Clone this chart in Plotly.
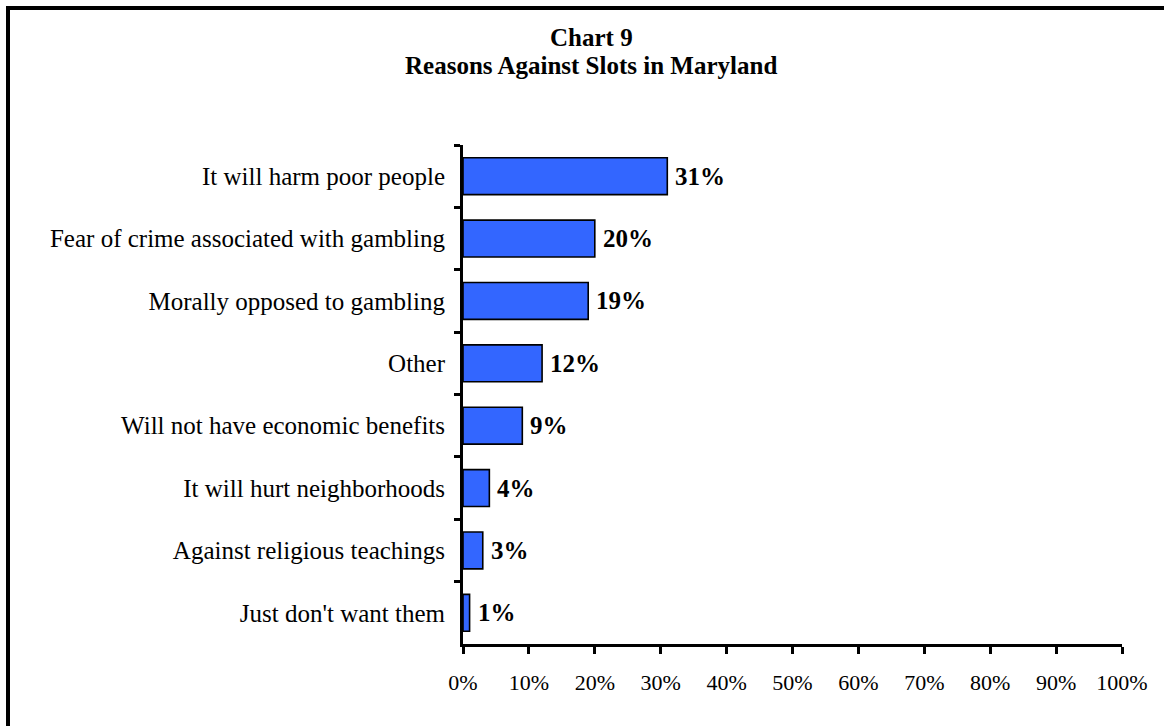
import plotly.graph_objects as go

# Survey responses: reasons given against slots in Maryland
reasons = [
    "It will harm poor people",
    "Fear of crime associated with gambling",
    "Morally opposed to gambling",
    "Other",
    "Will not have economic benefits",
    "It will hurt neighborhoods",
    "Against religious teachings",
    "Just don't want them",
]
shares = [31, 20, 19, 12, 9, 4, 3, 1]
x_ticks = list(range(0, 101, 10))
x_tick_text = [f"{v}%" for v in x_ticks]
title_lines = ["Chart 9", "Reasons Against Slots in Maryland"]

SERIF = "Liberation Serif, Times New Roman, serif"

W, H = 1164, 726
ML, MR, MT, MB = 463, 42, 145, 82
PW, PH = W - ML - MR, H - MT - MB

fig = go.Figure(
    go.Bar(
        x=shares,
        y=reasons,
        orientation="h",
        marker=dict(color="#3366FF", line=dict(color="#000000", width=1.6)),
        hoverinfo="skip",
    )
)

# value labels just past the end of each bar
annotations = [
    dict(
        x=v,
        y=r,
        xref="x",
        yref="y",
        text=f"<b>{v}%</b>",
        showarrow=False,
        xanchor="left",
        yanchor="middle",
        xshift=6,
        font=dict(family=SERIF, size=25, color="#000000"),
    )
    for v, r in zip(shares, reasons)
]

# two-line heading, centred over the page (positions given in page pixels)
for line, ypix in zip(title_lines, [37, 66]):
    annotations.append(
        dict(
            x=(591 - ML) / PW,
            y=(H - MB - ypix) / PH,
            xref="paper",
            yref="paper",
            text=f"<b>{line}</b>",
            showarrow=False,
            xanchor="center",
            yanchor="middle",
            font=dict(family=SERIF, size=25, color="#000000"),
        )
    )

fig.update_layout(
    width=W,
    height=H,
    paper_bgcolor="#FFFFFF",
    plot_bgcolor="#FFFFFF",
    margin=dict(l=ML, r=MR, t=MT, b=MB),
    bargap=0.41,
    showlegend=False,
    annotations=annotations,
    xaxis=dict(
        range=[0, 100],
        tickvals=x_ticks,
        ticktext=x_tick_text,
        showgrid=False,
        zeroline=False,
        showline=True,
        linecolor="#000000",
        linewidth=3,
        ticks="outside",
        ticklen=7,
        tickwidth=3,
        tickcolor="#000000",
        tickfont=dict(family=SERIF, size=22, color="#000000"),
        ticklabelstandoff=10,
        fixedrange=True,
    ),
    yaxis=dict(
        autorange="reversed",
        type="category",
        tickson="boundaries",
        showgrid=False,
        zeroline=False,
        showline=True,
        linecolor="#000000",
        linewidth=3,
        ticks="outside",
        ticklen=6,
        tickwidth=3,
        tickcolor="#000000",
        tickfont=dict(family=SERIF, size=25, color="#000000"),
        ticklabelstandoff=10,
        fixedrange=True,
    ),
)

# frame around the whole chart
fig.add_shape(
    type="rect",
    xref="paper",
    yref="paper",
    x0=(8 - ML) / PW,
    x1=1.3,
    y0=-0.5,
    y1=(H - MB - 8) / PH,
    line=dict(color="#000000", width=4),
    fillcolor="rgba(0,0,0,0)",
    layer="above",
)

fig.write_html("out.html")
